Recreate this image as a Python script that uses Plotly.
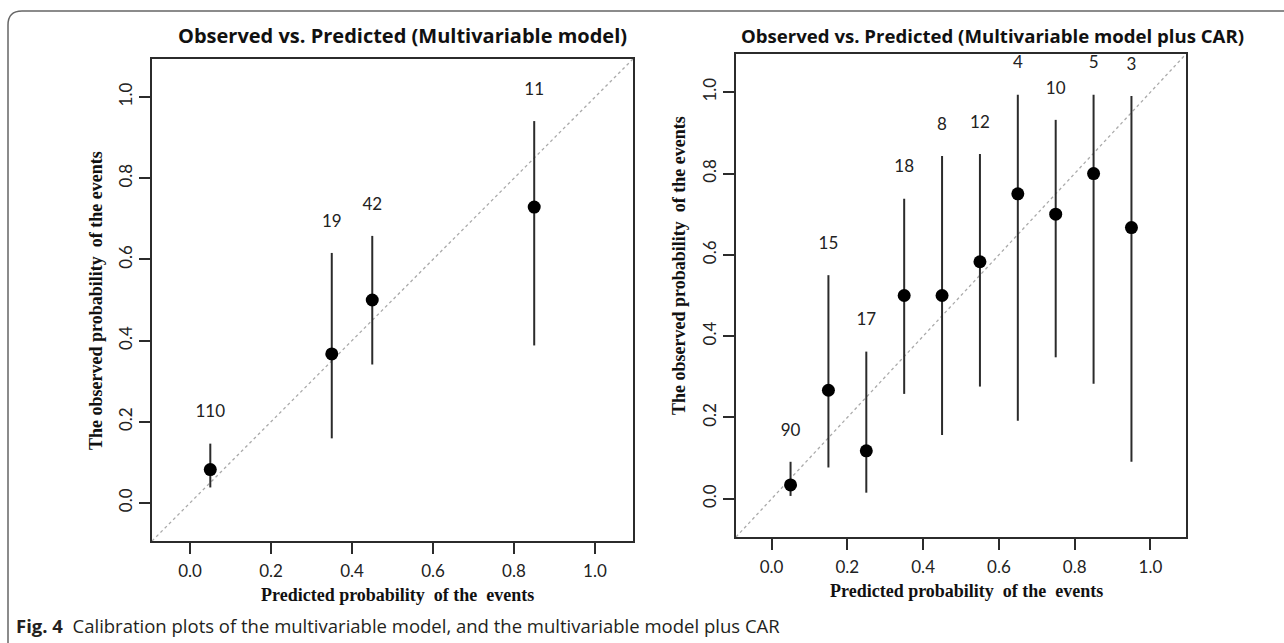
import plotly.graph_objects as go

W, H = 1284, 643

# ---------------- data ----------------
# Left panel: Multivariable model
left_pred = [0.05, 0.35, 0.45, 0.85]
left_obs = [0.082, 0.367, 0.50, 0.729]
left_upper = [0.146, 0.616, 0.658, 0.941]
left_lower = [0.038, 0.159, 0.341, 0.388]
left_n = ["110", "19", "42", "11"]

# Right panel: Multivariable model plus CAR
right_pred = [0.05, 0.15, 0.25, 0.35, 0.45, 0.55, 0.65, 0.75, 0.85, 0.95]
right_obs = [0.034, 0.267, 0.118, 0.50, 0.50, 0.583, 0.75, 0.70, 0.80, 0.667]
right_upper = [0.091, 0.55, 0.362, 0.738, 0.843, 0.848, 0.994, 0.932, 0.994, 0.991]
right_lower = [0.007, 0.077, 0.015, 0.258, 0.157, 0.276, 0.192, 0.348, 0.283, 0.091]
right_n = ["90", "15", "17", "18", "8", "12", "4", "10", "5", "3"]

tick_vals = [0.0, 0.2, 0.4, 0.6, 0.8, 1.0]
tick_text = ["0.0", "0.2", "0.4", "0.6", "0.8", "1.0"]

titles = ["Observed vs. Predicted (Multivariable model)",
          "Observed vs. Predicted (Multivariable model plus CAR)"]
xlab = "Predicted probability  of the  events"
ylab = "The observed probability  of the events"
caption_bold = "Fig. 4"
caption_text = "Calibration plots of the multivariable model, and the multivariable model plus CAR"

# ---------------- layout helpers ----------------
def px(x):
    return x / W

def py(y):
    return 1 - y / H

RANGE = [-0.094, 1.094]
LABEL_OFFSET = 0.075
INK = "#2b2b2b"
SANS = "Lato, 'Open Sans', sans-serif"
SERIF = "'Liberation Serif', 'DejaVu Serif', serif"

panels = [
    dict(pred=left_pred, obs=left_obs, up=left_upper, lo=left_lower, n=left_n,
         x0=152, x1=633, y0=59, y1=541, xa="x", ya="y", tcx=402, tsz=20, ylx=96, yly=300),
    dict(pred=right_pred, obs=right_obs, up=right_upper, lo=right_lower, n=right_n,
         x0=736, x1=1186, y0=54, y1=537, xa="x2", ya="y2", tcx=992, tsz=18.6, ylx=679, yly=266),
]

fig = go.Figure()
annotations = []
shapes = []

for i, p in enumerate(panels):
    fig.add_trace(go.Scatter(
        x=p["pred"], y=p["obs"], mode="markers",
        marker=dict(size=13, color="black"),
        error_y=dict(type="data", symmetric=False,
                     array=[u - o for u, o in zip(p["up"], p["obs"])],
                     arrayminus=[o - l for o, l in zip(p["obs"], p["lo"])],
                     width=0, thickness=2, color=INK),
        xaxis=p["xa"], yaxis=p["ya"], showlegend=False, hoverinfo="skip"))
    fig.add_trace(go.Scatter(
        x=p["pred"], y=[u + LABEL_OFFSET for u in p["up"]], mode="text",
        text=p["n"], textposition="middle center",
        textfont=dict(family=SANS, size=17, color="#222"),
        xaxis=p["xa"], yaxis=p["ya"], showlegend=False, hoverinfo="skip"))
    xd = "x domain" if p["xa"] == "x" else "x2 domain"
    yd = "y domain" if p["ya"] == "y" else "y2 domain"
    shapes.append(dict(type="line", xref=xd, yref=yd, x0=0, y0=0, x1=1, y1=1,
                       line=dict(color="#aaaaaa", width=1.3, dash="dot"), layer="below"))
    annotations.append(dict(text="<b>%s</b>" % titles[i], x=px(p["tcx"]), y=py(35),
                            xref="paper", yref="paper", showarrow=False,
                            xanchor="center", yanchor="middle",
                            font=dict(family="'Open Sans', sans-serif", size=p["tsz"], color="#111")))
    annotations.append(dict(text="<b>%s</b>" % xlab, x=px((p["x0"] + p["x1"]) / 2 + 5), y=py(p["y1"] + 54),
                            xref="paper", yref="paper", showarrow=False,
                            xanchor="center", yanchor="middle",
                            font=dict(family=SERIF, size=18, color="#111")))
    annotations.append(dict(text="<b>%s</b>" % ylab, x=px(p["ylx"]), y=py(p["yly"]),
                            xref="paper", yref="paper", showarrow=False, textangle=-90,
                            xanchor="center", yanchor="middle",
                            font=dict(family=SERIF, size=18, color="#111")))

axis_common = dict(range=RANGE, tickvals=tick_vals, ticktext=tick_text,
                   ticks="outside", ticklen=11, tickwidth=1.5, tickcolor=INK,
                   showline=True, mirror=True, linewidth=2, linecolor=INK,
                   showgrid=False, zeroline=False,
                   tickfont=dict(family=SANS, size=17, color="#222"))

fig.update_layout(
    width=W, height=H, autosize=False,
    margin=dict(l=0, r=0, t=0, b=0),
    paper_bgcolor="white", plot_bgcolor="white",
    xaxis=dict(domain=[px(152), px(633)], anchor="y", ticklabelstandoff=3, **axis_common),
    yaxis=dict(domain=[py(541), py(59)], anchor="x", tickangle=-90, **axis_common),
    xaxis2=dict(domain=[px(736), px(1186)], anchor="y2", ticklabelstandoff=3, **axis_common),
    yaxis2=dict(domain=[py(537), py(54)], anchor="x2", tickangle=-90, **axis_common),
)

annotations.append(dict(text="<b>%s</b>  %s" % (caption_bold, caption_text),
                        x=px(14), y=py(625), xref="paper", yref="paper", showarrow=False,
                        xanchor="left", yanchor="middle",
                        font=dict(family="'Open Sans', sans-serif", size=18.5, color="#231f20")))

r = 14
path = "M %f,%f L %f,%f Q %f,%f %f,%f L %f,%f" % (
    px(8), py(660), px(8), py(11 + r), px(8), py(11), px(8 + r), py(11), px(1300), py(11))
shapes.append(dict(type="path", xref="paper", yref="paper", path=path,
                   line=dict(color="#666666", width=1.5)))

fig.update_layout(annotations=annotations, shapes=shapes)
fig.write_html("out.html")
